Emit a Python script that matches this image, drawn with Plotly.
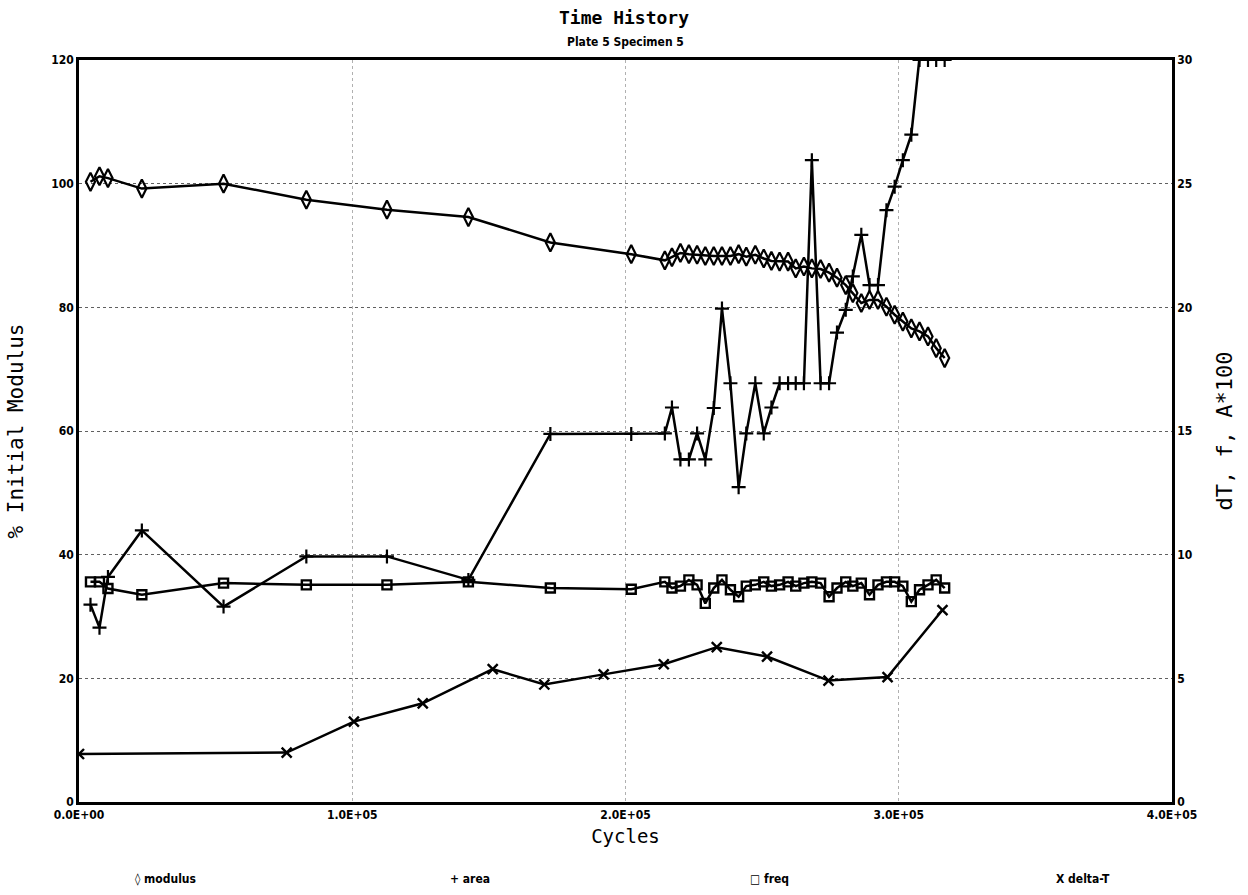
import plotly.graph_objects as go
import numpy as np

# ---- data ----
cycles = [4200, 7500, 10600, 23000, 52900, 83200, 112700, 142500, 172500, 202100,
          214400, 217000, 220100, 223200, 226200, 229200, 232300, 235300, 238400, 241400,
          244200, 247500, 250600, 253400, 256400, 259500, 262300, 265300, 268200, 271400,
          274500, 277400, 280600, 283200, 286300, 289300, 292400, 295500, 298500, 301500,
          304600, 307600, 310700, 313700, 316800]

modulus = [100.3, 101.2, 100.9, 99.2, 100.0, 97.4, 95.8, 94.6, 90.5, 88.6,
           87.6, 88.1, 88.8, 88.6, 88.5, 88.3, 88.3, 88.3, 88.3, 88.6,
           88.2, 88.5, 87.9, 87.5, 87.4, 87.4, 86.3, 86.6, 86.3, 86.2,
           85.6, 84.8, 83.6, 82.3, 80.7, 81.2, 81.2, 80.1, 78.8, 77.7,
           76.6, 76.1, 75.3, 73.4, 71.8]

area = [7.98, 7.05, 9.1, 10.98, 7.9, 9.93, 9.93, 8.98, 14.88, 14.88,
        14.9, 15.95, 13.85, 13.85, 14.9, 13.85, 15.93, 19.95, 16.93, 12.73,
        14.9, 16.93, 14.9, 15.95, 16.93, 16.93, 16.93, 16.93, 25.95, 16.93,
        16.93, 18.98, 19.9, 21.25, 22.93, 20.9, 20.9, 23.93, 24.88, 25.95,
        26.98, 30.1, 31.5, 32.75, 34.0]

freq = [8.9, 8.9, 8.63, 8.38, 8.85, 8.78, 8.78, 8.9, 8.65, 8.6,
        8.9, 8.65, 8.73, 8.98, 8.78, 8.03, 8.65, 8.98, 8.58, 8.3,
        8.73, 8.78, 8.9, 8.73, 8.78, 8.9, 8.73, 8.85, 8.9, 8.85,
        8.3, 8.65, 8.9, 8.73, 8.85, 8.38, 8.78, 8.9, 8.9, 8.73,
        8.1, 8.58, 8.78, 8.98, 8.65]

dt_cycles = [0, 76000, 100600, 125800, 151400, 170300, 192000, 214000,
             233400, 251800, 274300, 295900, 316000]
delta_t = [1.94, 2.0, 3.25, 3.99, 5.37, 4.75, 5.16, 5.57, 6.26, 5.88, 4.91, 5.05, 7.76]

x_tickvals = [0, 100000, 200000, 300000, 400000]
x_ticktext = ["0.0E+00", "1.0E+05", "2.0E+05", "3.0E+05", "4.0E+05"]
left_ticks = [0, 20, 40, 60, 80, 100, 120]
right_ticks = [0, 5, 10, 15, 20, 25, 30]
legend_labels = ["\u25ca modulus", "+ area", "\u25a1 freq", "X delta-T"]

RIGHT_MAX = 30

NARROW = "Liberation Sans Narrow, DejaVu Sans Condensed, Arial Narrow, sans-serif"
TICKFONT = dict(family=NARROW, size=12, color="black", weight="bold")
MONO = "DejaVu Sans Mono, Liberation Mono, monospace"

fig = go.Figure()

fig.add_trace(go.Scatter(
    x=cycles, y=modulus, mode="lines+markers", name="modulus",
    line=dict(color="black", width=2.5),
    marker=dict(symbol="diamond-tall-open", size=13, color="black", line=dict(width=2.2, color="black")),
))

# area: line with true values, markers clipped to the top of the frame like the plotter did
fig.add_trace(go.Scatter(
    x=cycles, y=area, mode="lines", yaxis="y2",
    line=dict(color="black", width=2.5), showlegend=False,
))
fig.add_trace(go.Scatter(
    x=cycles, y=np.minimum(np.array(area), RIGHT_MAX), mode="markers", yaxis="y2", name="area",
    marker=dict(symbol="cross-thin-open", size=10, color="black", line=dict(width=2.2, color="black")),
))

fig.add_trace(go.Scatter(
    x=cycles, y=freq, mode="lines+markers", yaxis="y2", name="freq",
    line=dict(color="black", width=2.5),
    marker=dict(symbol="square-open", size=9, color="black", line=dict(width=2.4, color="black")),
))

fig.add_trace(go.Scatter(
    x=dt_cycles, y=delta_t, mode="lines+markers", yaxis="y2", name="delta-T",
    line=dict(color="black", width=2.5),
    marker=dict(symbol="x-thin-open", size=10, color="black", line=dict(width=2.4, color="black")),
))

fig.update_layout(
    width=1248, height=895,
    margin=dict(l=79, r=76, t=60, b=93),
    paper_bgcolor="white", plot_bgcolor="white",
    showlegend=False,
    xaxis=dict(range=[0, 400000], tickvals=x_tickvals, ticktext=x_ticktext,
               tickfont=TICKFONT, ticks="", showline=True, linecolor="black", linewidth=2.5,
               mirror=True, zeroline=False,
               showgrid=True, gridcolor="#b0b0b0", gridwidth=1, griddash="dot",
               title=dict(text="Cycles", font=dict(family=MONO, size=19, color="black"), standoff=9)),
    yaxis=dict(range=[0, 120], tickvals=left_ticks, tickfont=TICKFONT, ticks="",
               showline=True, linecolor="black", linewidth=2.5, zeroline=False,
               showgrid=True, gridcolor="#606060", gridwidth=1, griddash="dot",
               title=dict(text="% Initial Modulus", font=dict(family=MONO, size=21, color="black"), standoff=22)),
    yaxis2=dict(range=[0, RIGHT_MAX], tickvals=right_ticks, tickfont=TICKFONT, ticks="",
                overlaying="y", side="right", showgrid=False, zeroline=False,
                showline=True, linecolor="black", linewidth=2.5,
                title=dict(text="dT, f, A*100", font=dict(family=MONO, size=22, color="black"), standoff=26)),
    title=dict(text="Time History", x=0.5, xanchor="center", y=0.987, yanchor="top",
               font=dict(family=MONO, size=18, color="black", weight="bold")),
)

fig.add_annotation(text="Plate 5 Specimen 5", xref="paper", yref="paper", x=0.5, y=1.0,
                   xanchor="center", yanchor="bottom", showarrow=False, yshift=9,
                   font=dict(family=NARROW, size=12, color="black", weight="bold"))

legend_x = [0.0787, 0.358, 0.632, 0.919]
for lx, lab in zip(legend_x, legend_labels):
    fig.add_annotation(text=lab, xref="paper", yref="paper", x=lx, y=0,
                       xanchor="center", yanchor="top",
                       yshift=-68, showarrow=False,
                       font=dict(family=NARROW, size=12, color="black", weight="bold"))

fig.write_html("out.html")
